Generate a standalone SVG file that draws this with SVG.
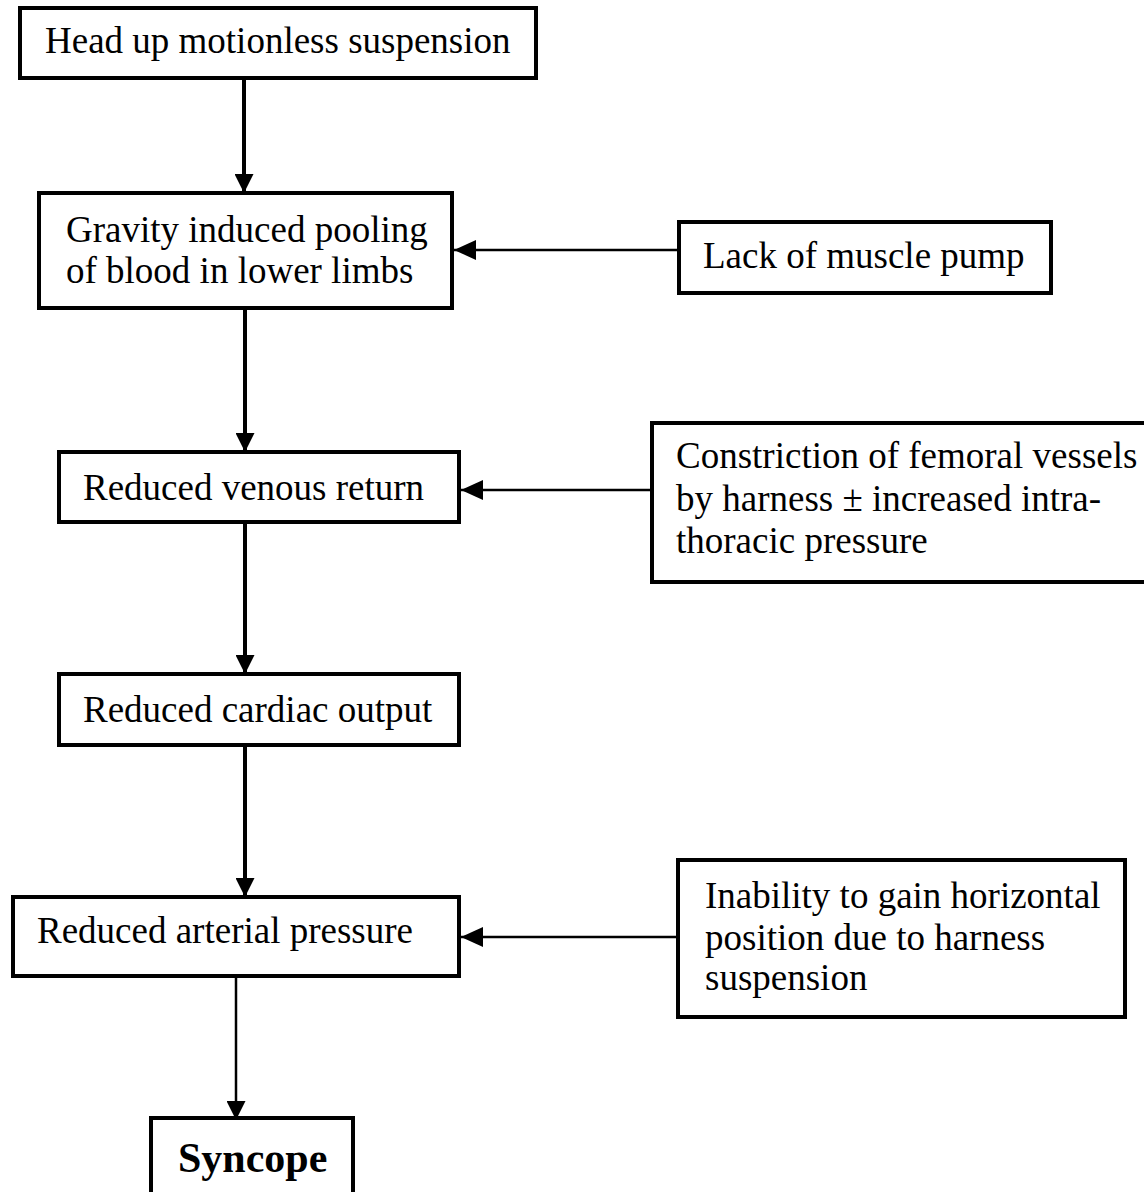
<svg xmlns="http://www.w3.org/2000/svg" width="1144" height="1192" viewBox="0 0 1144 1192">
<style>
.box{fill:#fff;stroke:#000;stroke-width:4}
.t{font-family:"Liberation Serif","Times New Roman",serif;font-size:37px;fill:#000}
.b{font-weight:bold;font-size:42px}
.main{stroke:#000;stroke-width:4;fill:none}
.side{stroke:#000;stroke-width:2.5;fill:none}
.thin{stroke:#000;stroke-width:2.5;fill:none}
</style>
<defs>
<marker id="ah" viewBox="0 0 10 10" refX="10" refY="5" markerWidth="19" markerHeight="19" markerUnits="userSpaceOnUse" orient="auto">
<path d="M0,0 L10,5 L0,10 z" fill="#000"/>
</marker>
<marker id="ahs" viewBox="0 0 10 10" refX="10" refY="5" markerWidth="22" markerHeight="22" markerUnits="userSpaceOnUse" orient="auto">
<path d="M0,0.5 L10,5 L0,9.5 z" fill="#000"/>
</marker>
</defs>
<rect width="1144" height="1192" fill="#fff"/>
<g id="connectors">
<line class="main" x1="244" y1="80" x2="244" y2="193" marker-end="url(#ah)"/>
<line class="main" x1="245" y1="308" x2="245" y2="452" marker-end="url(#ah)"/>
<line class="main" x1="245" y1="522" x2="245" y2="674" marker-end="url(#ah)"/>
<line class="main" x1="245" y1="745" x2="245" y2="897" marker-end="url(#ah)"/>
<line class="thin" x1="236" y1="976" x2="236" y2="1120" marker-end="url(#ah)"/>
<line class="side" x1="679" y1="250" x2="454" y2="250" marker-end="url(#ahs)"/>
<line class="side" x1="652" y1="490" x2="461" y2="490" marker-end="url(#ahs)"/>
<line class="side" x1="678" y1="937" x2="461" y2="937" marker-end="url(#ahs)"/>
</g>
<g id="n1"><rect class="box" x="20" y="8" width="516" height="70"/><text class="t" x="45" y="53">Head up motionless suspension</text></g>
<g id="n2"><rect class="box" x="39" y="193" width="413" height="115"/><text class="t" x="66" y="242">Gravity induced pooling</text><text class="t" x="66" y="283">of blood in lower limbs</text></g>
<g id="n3"><rect class="box" x="679" y="222" width="372" height="71"/><text class="t" x="703" y="268">Lack of muscle pump</text></g>
<g id="n4"><rect class="box" x="59" y="452" width="400" height="70"/><text class="t" x="83" y="500">Reduced venous return</text></g>
<g id="n5"><rect class="box" x="652" y="423" width="510" height="159"/><text class="t" x="676" y="468">Constriction of femoral vessels</text><text class="t" x="676" y="511">by harness ± increased intra-</text><text class="t" x="676" y="553">thoracic pressure</text></g>
<g id="n6"><rect class="box" x="59" y="674" width="400" height="71"/><text class="t" x="83" y="722">Reduced cardiac output</text></g>
<g id="n7"><rect class="box" x="13" y="897" width="446" height="79"/><text class="t" x="37" y="943">Reduced arterial pressure</text></g>
<g id="n8"><rect class="box" x="678" y="860" width="447" height="157"/><text class="t" x="705" y="908">Inability to gain horizontal</text><text class="t" x="705" y="950">position due to harness</text><text class="t" x="705" y="990">suspension</text></g>
<g id="n9"><rect class="box" x="151" y="1118" width="202" height="90"/><text class="t b" x="178" y="1172">Syncope</text></g>
</svg>
